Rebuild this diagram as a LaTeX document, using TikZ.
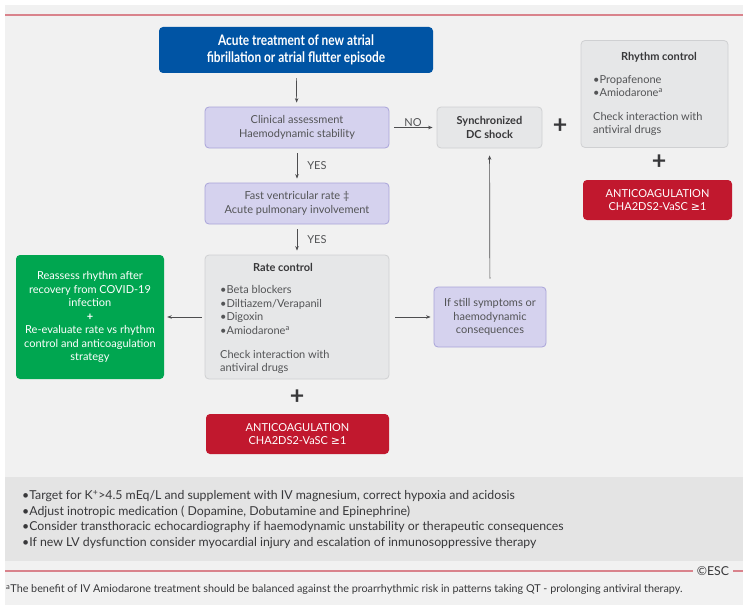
\documentclass[tikz,border=0pt]{standalone}
\usepackage{fontspec}
\setmainfont{Lato}
\newfontfamily\condfamily[FakeStretch=0.82]{Lato}
\newfontfamily\symfamily{DejaVu Sans}
\usetikzlibrary{arrows.meta, positioning}

\definecolor{escpanel}{HTML}{F1F1F1}
\definecolor{escfooter}{HTML}{E4E4E4}
\definecolor{escline}{HTML}{D9838C}
\definecolor{escblue}{HTML}{0054A4}
\definecolor{escpurple}{HTML}{D5D2EE}
\definecolor{escpurpleline}{HTML}{A9A4D9}
\definecolor{escgrey}{HTML}{E6E7E8}
\definecolor{escgreyline}{HTML}{CFD0D2}
\definecolor{escgreen}{HTML}{00A650}
\definecolor{escred}{HTML}{C1182E}
\definecolor{esctext}{HTML}{535456}
\definecolor{escdark}{HTML}{38383A}
\definecolor{escarrow}{HTML}{4D4D4F}

\newcommand\bodysize{\fontsize{11}{13.5}\selectfont}
\newcommand\titlesize{\condfamily\bfseries\fontsize{14.5}{16.5}\selectfont}
\newcommand\plussize{\bfseries\fontsize{25}{25}\selectfont}
\newcommand\footsize{\fontsize{12.3}{15.6}\selectfont}
\newcommand\notesize{\fontsize{10.8}{12}\selectfont}
\newcommand\atleast{{\symfamily\char"2265}}

\begin{document}
\begin{tikzpicture}[
    x=1pt, y=-1pt,
    box/.style={rounded corners=4pt, align=center, inner sep=2pt, font=\bodysize, text=esctext},
    title/.style={box, fill=escblue, text=white, font=\titlesize, minimum width=274pt, minimum height=46pt},
    check/.style={box, fill=escpurple, draw=escpurpleline, line width=0.8pt},
    drug/.style={box, fill=escgrey, draw=escgreyline, line width=0.8pt},
    anticoag/.style={box, fill=escred, text=white, minimum height=40pt},
    heading/.style={font=\bodysize\bfseries, text=escdark, inner sep=0pt},
    arrow/.style={-{Stealth[length=4.5pt, width=3.5pt]}, draw=escarrow, line width=0.7pt, shorten <=5pt, shorten >=4pt},
    plus/.style={font=\plussize, text=escdark, inner sep=0pt},
    answer/.style={font=\bodysize, text=esctext, inner sep=1pt}
]
    \useasboundingbox (0,0) rectangle (750,610);
    % Panel
    \fill[escpanel] (5,5) rectangle (743,605);
    \fill[escfooter] (5,477) rectangle (743,561);
    \draw[escline, line width=1.4pt] (5,15) -- (743,15);

    % Boxes
    \node[title] (acute) at (296,50) {Acute treatment of new atrial\\fibrillation or atrial flutter episode};
    \node[check, minimum width=184pt, minimum height=41pt] (clinical) at (297,127.5) {Clinical assessment\\Haemodynamic stability};
    \node[drug, minimum width=105pt, minimum height=41pt, font=\bodysize\bfseries, text=escdark] (shock) at (489.5,127.5) {Synchronized\\DC shock};
    \node[check, minimum width=184pt, minimum height=41pt] (fast) at (297,203.5) {Fast ventricular rate \ddag\\Acute pulmonary involvement};
    \node[drug, minimum width=184pt, minimum height=124pt] (rate) at (297,317) {};
    \node[box, fill=escgreen, text=white, minimum width=148pt, minimum height=124pt] (reassess) at (90,317)
        {Reassess rhythm after\\recovery from COVID-19\\infection\\\textbf{+}\\Re-evaluate rate vs rhythm\\control and anticoagulation\\strategy};
    \node[check, minimum width=112pt, minimum height=60pt] (still) at (490,317) {If still symptoms or\\haemodynamic\\consequences};
    \node[anticoag, minimum width=183pt] (anticoagrate) at (297.5,434) {ANTICOAGULATION\\CHA2DS2-VaSC \atleast1};
    \node[drug, minimum width=147pt, minimum height=107pt] (rhythm) at (654.5,94) {};
    \node[anticoag, minimum width=149pt] (anticoagrhythm) at (657.5,200) {ANTICOAGULATION\\CHA2DS2-VaSC \atleast1};

    % Box contents
    \node[heading] (ratehead) at (283,267) {Rate control};
    \node[box, align=left, anchor=west, inner sep=0pt] (ratetext) at (220,329.5)
        {\textbullet Beta blockers\\\textbullet Diltiazem/Verapanil\\\textbullet Digoxin\\\textbullet Amiodarone\textsuperscript{a}\\[10.5pt]Check interaction with\\antiviral drugs};
    \node[heading] (rhythmhead) at (659,57) {Rhythm control};
    \node[box, align=left, anchor=west, inner sep=0pt, font=\fontsize{11}{12.3}\selectfont] (rhythmtext) at (593,105.5)
        {\textbullet Propafenone\\\textbullet Amiodarone\textsuperscript{a}\\[12.5pt]Check interaction with\\antiviral drugs};

    % Plus signs
    \node[plus] (plusshock) at (560,126) {+};
    \node[plus] (plusrhythm) at (659,162) {+};
    \node[plus] (plusrate) at (297,397) {+};

    % Transitions
    \draw[arrow] (acute) -- (clinical);
    \draw[arrow] (clinical) -- node[answer, above] {NO} (shock);
    \draw[arrow] (clinical) -- node[answer, right, xshift=9pt] {YES} (fast);
    \draw[arrow] (fast) -- node[answer, right, xshift=9pt] {YES} (rate);
    \draw[arrow, shorten <=3pt, shorten >=3pt] (rate) -- (reassess);
    \draw[arrow, shorten <=6pt, shorten >=3pt] (rate) -- (still);
    \draw[arrow, shorten <=8pt, shorten >=7pt] (still) -- (shock);

    % Footer
    \node[anchor=west, align=left, font=\footsize, text=escdark, inner sep=0pt] (advice) at (22,519.5)
        {\textbullet Target for K\textsuperscript{+}>4.5 mEq/L and supplement with IV magnesium, correct hypoxia and acidosis\\
         \textbullet Adjust inotropic medication ( Dopamine, Dobutamine and Epinephrine)\\
         \textbullet Consider transthoracic echocardiography if haemodynamic unstability or therapeutic consequences\\
         \textbullet If new LV dysfunction consider myocardial injury and escalation of inmunosoppressive therapy};
    \node[font=\footsize, text=escdark, inner sep=4pt] (esc) at (713,571) {\copyright ESC};
    \draw[escline, line width=1.4pt] (5,571) -- (esc.west);
    \draw[escline, line width=1.4pt] (esc.east) -- (743,571);
    \node[anchor=west, font=\notesize, text=escdark, inner sep=0pt] (note) at (6,590)
        {\textsuperscript{a}The benefit of IV Amiodarone treatment should be balanced against the proarrhythmic risk in patterns taking QT - prolonging antiviral therapy.};
\end{tikzpicture}
\end{document}
